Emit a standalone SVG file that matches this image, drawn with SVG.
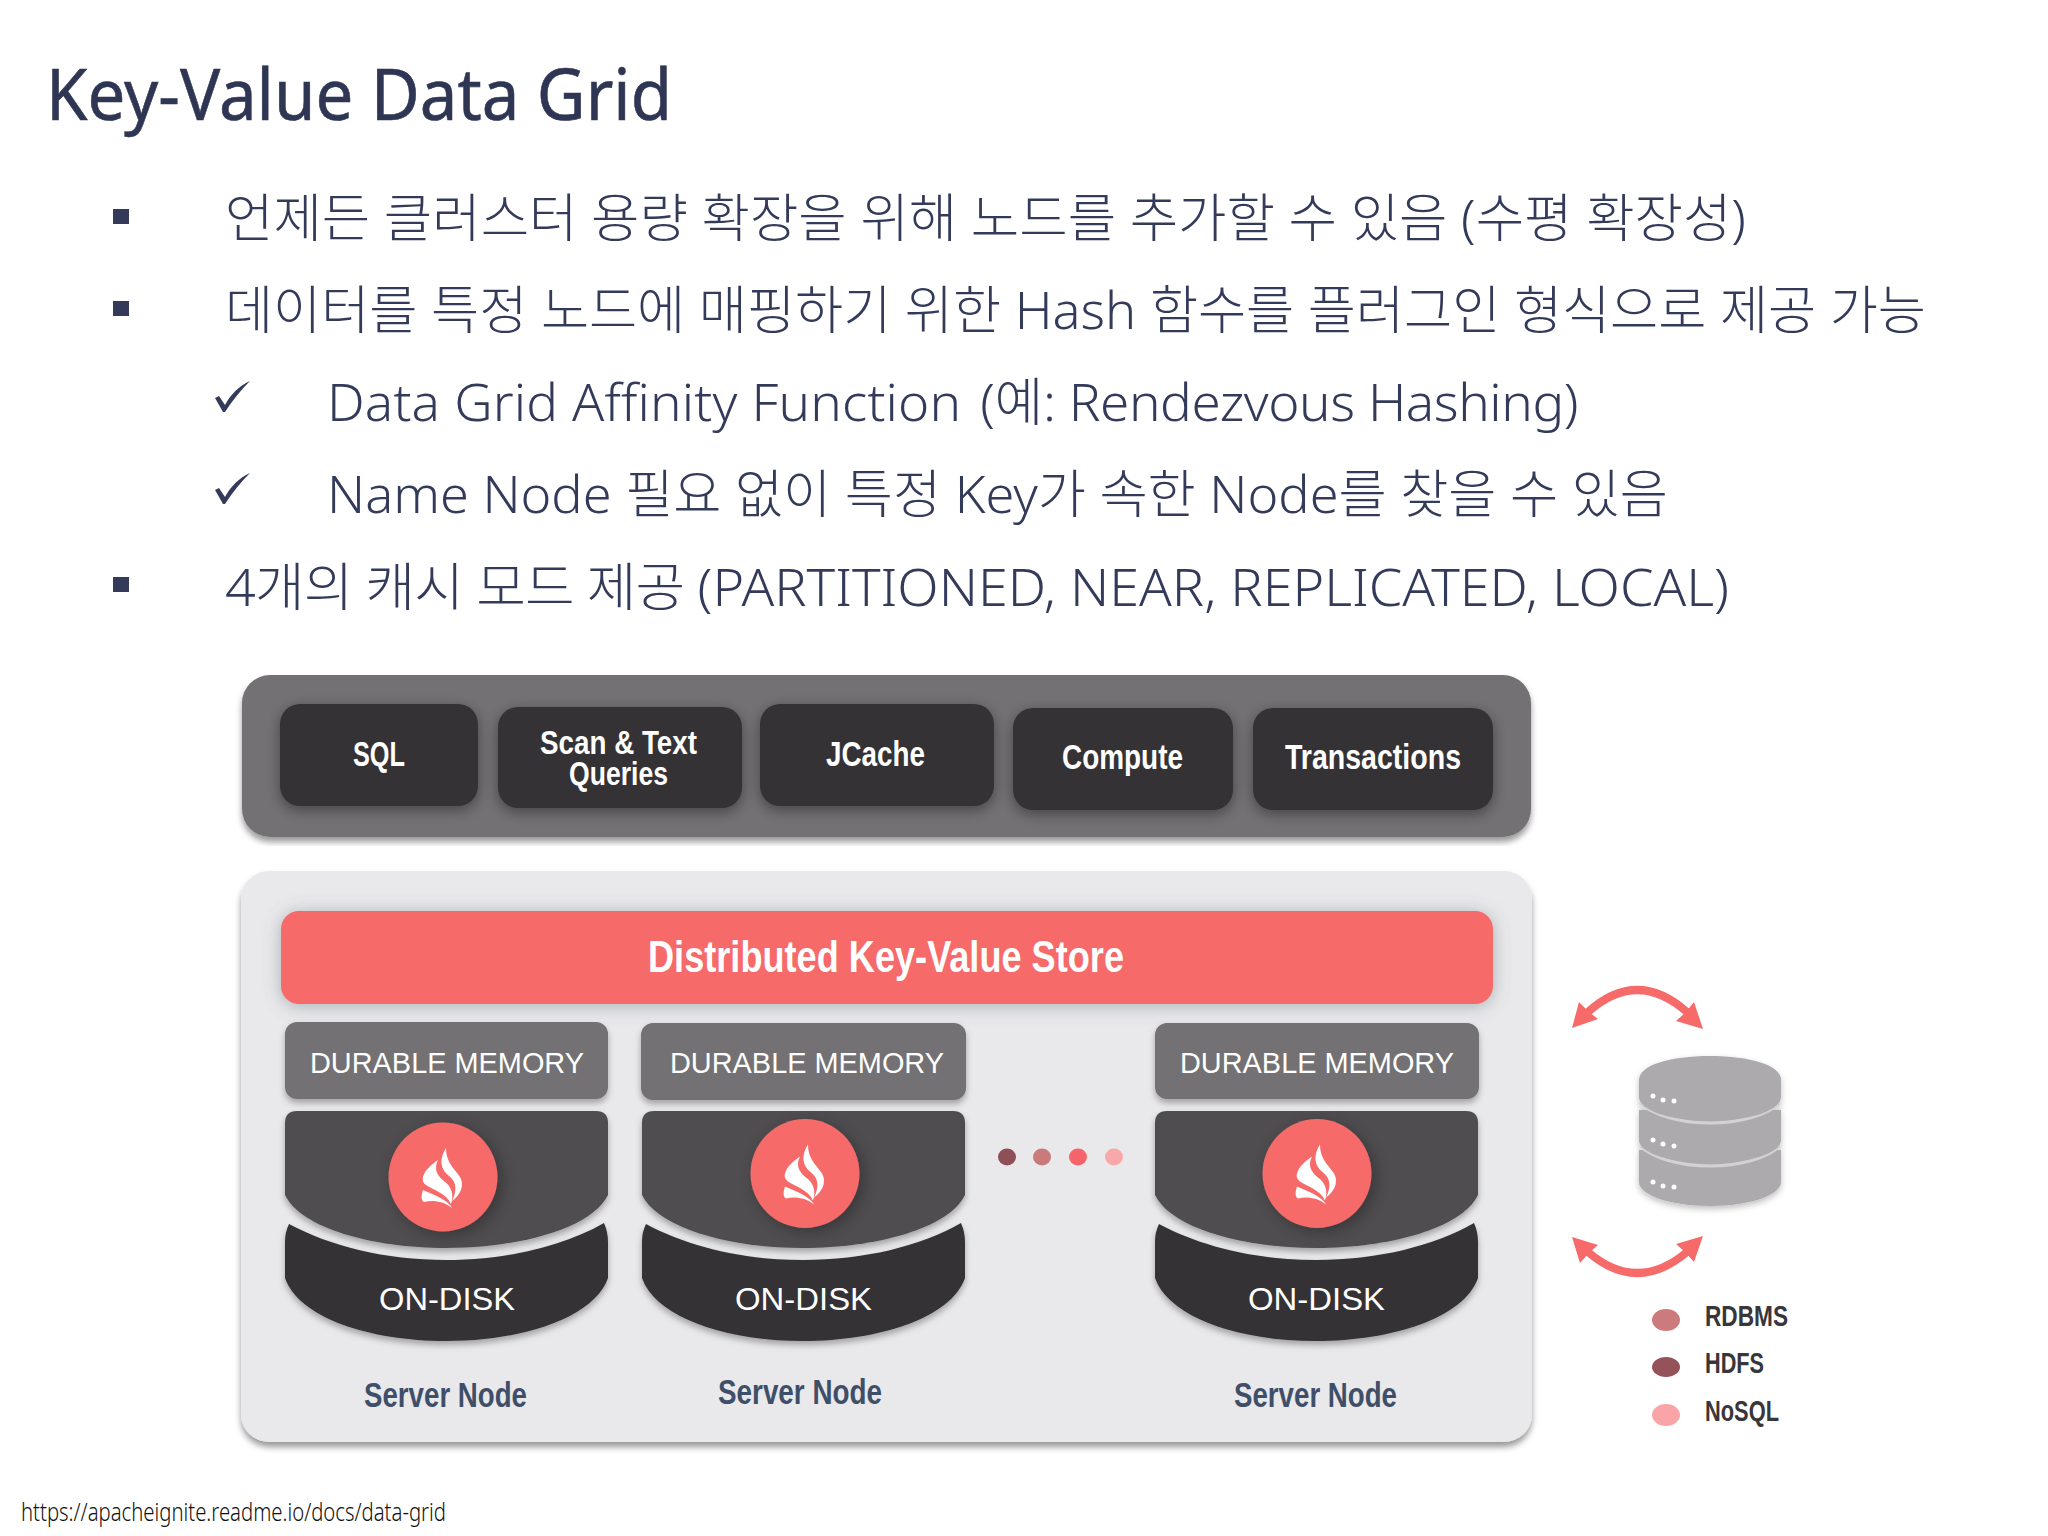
<svg xmlns="http://www.w3.org/2000/svg" width="2048" height="1536" viewBox="0 0 2048 1536">
<defs>
<style>
.body{font-family:"Noto Sans","Noto Sans CJK KR",sans-serif;font-weight:300;font-size:52px;fill:#343b5a}
.title{font-family:"Noto Sans","Noto Sans CJK KR",sans-serif;font-weight:400;font-size:72px;fill:#2f3654;stroke:#2f3654;stroke-width:.6}
.foot{font-family:"Noto Sans","Noto Sans CJK KR",sans-serif;font-weight:300;font-size:25px;fill:#111}
.api{font-family:"Liberation Sans",Arial,sans-serif;font-weight:700;font-size:35px;fill:#fff}
.reg{font-family:"Liberation Sans",Arial,sans-serif;font-weight:400;font-size:29px;fill:#fff;text-anchor:start}
.sn{font-family:"Liberation Sans",Arial,sans-serif;font-weight:700;font-size:35px;fill:#3f4f69}
.leg{font-family:"Liberation Sans",Arial,sans-serif;font-weight:700;font-size:30px;fill:#38363a}
.mark{fill:#343b5a}
.api-box{fill:#343235;filter:url(#sh4)}
.dur{fill:#737173;filter:url(#sh)}
.top{fill:#504e50;filter:url(#sh)}
.low{fill:#343235;filter:url(#sh)}
.logo{fill:#f66a6a;filter:url(#sh2)}
.disk{fill:#acaaad}
.gap{fill:none;stroke:#d2d2d4;stroke-width:3}
.pip{fill:#fff}
.arc{fill:none;stroke:#f66a6a;stroke-width:8}
.head{fill:#f66a6a}
</style>
<filter id="sh" x="-10%" y="-15%" width="120%" height="140%"><feDropShadow dx="0" dy="4" stdDeviation="3" flood-color="#000" flood-opacity=".3"/></filter>
<filter id="sh2" x="-30%" y="-30%" width="160%" height="160%"><feDropShadow dx="4" dy="4" stdDeviation="8" flood-color="#000" flood-opacity=".3"/></filter>
<filter id="sh3" x="-5%" y="-5%" width="110%" height="110%"><feDropShadow dx="0" dy="5" stdDeviation="3" flood-color="#000" flood-opacity=".4"/></filter>
<filter id="sh4" x="-15%" y="-25%" width="130%" height="160%"><feDropShadow dx="0" dy="4" stdDeviation="7" flood-color="#000" flood-opacity=".4"/></filter>
<filter id="sh5" x="-5%" y="-30%" width="110%" height="170%"><feDropShadow dx="0" dy="2" stdDeviation="9" flood-color="#5a6a70" flood-opacity=".45"/></filter>
<filter id="sh6" x="-10%" y="-10%" width="120%" height="125%"><feDropShadow dx="0" dy="3" stdDeviation="3" flood-color="#000" flood-opacity=".25"/></filter>
<g id="flame" fill="#fff">
<path d="M3,-29 C-4,-18 -3,-8 6,-1 C14,5 14,14 9,24 C17,18 21,10 18,2 C15,-6 3,-12 3,-29Z"/>
<path d="M-5,-17 C-17,-9 -25,2 -17,8 C-10,13 3,16 8,27 C11,18 9,10 1,4 C-7,-2 -9,-9 -5,-17Z"/>
<path d="M-20,13 C-22,19 -22,23 -19,25 C-10,23 0,24 9,31 C6,24 -8,18 -20,13Z"/>
</g>
<path id="check" d="M0,17 L4,15 L10,24 C16,13 24,5 35,0 C26,9 17,20 10,31 L8,31 Z"/>
<path id="srv-top" d="M285,1123 Q285,1111 297,1111 L596,1111 Q608,1111 608,1123 L608,1195 C592,1228 520,1248 446,1248 C372,1248 301,1228 285,1195 Z"/>
<path id="srv-low" d="M289,1224 C330,1246 385,1260 446,1260 C507,1260 564,1246 604,1223 Q608,1232 608,1242 L608,1278 C594,1318 522,1341 446,1341 C370,1341 299,1318 285,1278 L285,1242 Q285,1232 289,1224 Z"/>
</defs>
<rect width="2048" height="1536" fill="#fff"/>

<g id="slide-text">
<text class="title" x="46" y="120" textLength="626" lengthAdjust="spacingAndGlyphs">Key-Value Data Grid</text>
<rect class="mark" x="113" y="209" width="16" height="15"/>
<text class="body" x="225" y="237" textLength="1521" lengthAdjust="spacingAndGlyphs">언제든 클러스터 용량 확장을 위해 노드를 추가할 수 있음 (수평 확장성)</text>
<rect class="mark" x="113" y="301" width="16" height="15"/>
<text class="body" x="225" y="329" textLength="1701" lengthAdjust="spacingAndGlyphs">데이터를 특정 노드에 매핑하기 위한 Hash 함수를 플러그인 형식으로 제공 가능</text>
<use href="#check" class="mark" x="215" y="381"/>
<text class="body" x="327" y="421" textLength="1251" lengthAdjust="spacingAndGlyphs"><tspan style="letter-spacing:.15px">Data Grid Affinity Function </tspan><tspan dx="5" style="letter-spacing:-.45px">(예: Rendezvous Hashing)</tspan></text>
<use href="#check" class="mark" x="215" y="473"/>
<text class="body" x="327" y="513" textLength="1341" lengthAdjust="spacingAndGlyphs">Name Node 필요 없이 특정 Key가 속한 Node를 찾을 수 있음</text>
<rect class="mark" x="113" y="577" width="16" height="15"/>
<text class="body" x="225" y="606" textLength="1504" lengthAdjust="spacingAndGlyphs"><tspan style="letter-spacing:-.8px">4개의 캐시 모드 제공 </tspan>(PARTITIONED, NEAR, REPLICATED, LOCAL)</text>
<text class="foot" x="21" y="1521" textLength="425" lengthAdjust="spacingAndGlyphs">https://apacheignite.readme.io/docs/data-grid</text>
</g>

<g id="api-panel"><rect x="242" y="675" width="1289" height="162" rx="28" fill="#737173" filter="url(#sh3)"/></g>
<g id="sql"><rect class="api-box" x="280" y="704" width="198" height="102" rx="20"/><text class="api" x="353" y="766" textLength="52" lengthAdjust="spacingAndGlyphs">SQL</text></g>
<g id="scan"><rect class="api-box" x="498" y="707" width="244" height="101" rx="20"/><text class="api" x="540" y="754" textLength="157" lengthAdjust="spacingAndGlyphs" style="font-size:33px">Scan &amp; Text</text><text class="api" x="569" y="785" textLength="99" lengthAdjust="spacingAndGlyphs" style="font-size:33px">Queries</text></g>
<g id="jcache"><rect class="api-box" x="760" y="704" width="234" height="102" rx="20"/><text class="api" x="826" y="766" textLength="99" lengthAdjust="spacingAndGlyphs">JCache</text></g>
<g id="compute"><rect class="api-box" x="1013" y="708" width="220" height="102" rx="20"/><text class="api" x="1062" y="769" textLength="121" lengthAdjust="spacingAndGlyphs">Compute</text></g>
<g id="transactions"><rect class="api-box" x="1253" y="708" width="240" height="102" rx="20"/><text class="api" x="1285" y="769" textLength="176" lengthAdjust="spacingAndGlyphs">Transactions</text></g>

<g id="store-panel"><rect x="241" y="871" width="1291" height="571" rx="28" fill="#e9e9eb" filter="url(#sh3)"/></g>
<g id="kv-store"><rect x="281" y="911" width="1212" height="93" rx="18" fill="#f66a6a" filter="url(#sh5)"/><text x="648" y="972" textLength="476" lengthAdjust="spacingAndGlyphs" style="font-family:'Liberation Sans',Arial,sans-serif;font-weight:700;font-size:45px;fill:#fff">Distributed Key-Value Store</text></g>

<g id="server-1">
<rect class="dur" x="285" y="1022" width="323" height="77" rx="12"/>
<text class="reg" x="310" y="1073" textLength="274" lengthAdjust="spacingAndGlyphs">DURABLE MEMORY</text>
<use href="#srv-low" class="low"/>
<use href="#srv-top" class="top"/>
<circle class="logo" cx="443" cy="1177" r="54.5"/>
<use href="#flame" x="443" y="1177"/>
<text class="reg" x="379" y="1310" textLength="136" lengthAdjust="spacingAndGlyphs" style="font-size:32px">ON-DISK</text>
<text class="sn" x="364" y="1407" textLength="163" lengthAdjust="spacingAndGlyphs">Server Node</text>
</g>
<g id="server-2">
<rect class="dur" x="641" y="1023" width="325" height="77" rx="12"/>
<text class="reg" x="670" y="1073" textLength="274" lengthAdjust="spacingAndGlyphs">DURABLE MEMORY</text>
<use href="#srv-low" class="low" x="357"/>
<use href="#srv-top" class="top" x="357"/>
<circle class="logo" cx="805" cy="1173.5" r="54.5"/>
<use href="#flame" x="805" y="1173.5"/>
<text class="reg" x="735" y="1310" textLength="137" lengthAdjust="spacingAndGlyphs" style="font-size:32px">ON-DISK</text>
<text class="sn" x="718" y="1404" textLength="164" lengthAdjust="spacingAndGlyphs">Server Node</text>
</g>
<g id="dots">
<ellipse cx="1007" cy="1157" rx="9" ry="8.5" fill="#8f4f57"/>
<ellipse cx="1042" cy="1157" rx="9" ry="8.5" fill="#c97a7a"/>
<ellipse cx="1078" cy="1157" rx="9" ry="8.5" fill="#f4646a"/>
<ellipse cx="1114" cy="1157" rx="9" ry="8.5" fill="#f9a8aa"/>
</g>
<g id="server-3">
<rect class="dur" x="1155" y="1023" width="324" height="76" rx="12"/>
<text class="reg" x="1180" y="1073" textLength="274" lengthAdjust="spacingAndGlyphs">DURABLE MEMORY</text>
<use href="#srv-low" class="low" x="870"/>
<use href="#srv-top" class="top" x="870"/>
<circle class="logo" cx="1317" cy="1173.5" r="54.5"/>
<use href="#flame" x="1317" y="1173.5"/>
<text class="reg" x="1248" y="1310" textLength="137" lengthAdjust="spacingAndGlyphs" style="font-size:32px">ON-DISK</text>
<text class="sn" x="1234" y="1407" textLength="163" lengthAdjust="spacingAndGlyphs">Server Node</text>
</g>

<g id="database" filter="url(#sh6)">
<path class="disk" d="M1639,1165 V1182 C1639,1195 1670,1206 1710,1206 C1750,1206 1781,1195 1781,1182 V1150 H1639 Z"/>
<path class="gap" d="M1640,1146 C1652,1158 1680,1166 1710,1166 C1740,1166 1768,1158 1780,1146"/>
<path class="disk" d="M1639,1110 V1140 C1639,1153 1670,1163 1710,1163 C1750,1163 1781,1153 1781,1140 V1110 Z"/>
<path class="gap" d="M1640,1103 C1652,1115 1680,1123 1710,1123 C1740,1123 1768,1115 1780,1103"/>
<path class="disk" d="M1639,1080 C1639,1065 1670,1056 1710,1056 C1750,1056 1781,1065 1781,1080 V1097 C1781,1110 1750,1121 1710,1121 C1670,1121 1639,1110 1639,1097 Z"/>
<g class="pip">
<circle cx="1653" cy="1096" r="2.5"/><circle cx="1663" cy="1100" r="2.5"/><circle cx="1674" cy="1101" r="2.5"/>
<circle cx="1653" cy="1140" r="2.5"/><circle cx="1663" cy="1144" r="2.5"/><circle cx="1674" cy="1146" r="2.5"/>
<circle cx="1653" cy="1182" r="2.5"/><circle cx="1663" cy="1186" r="2.5"/><circle cx="1674" cy="1187" r="2.5"/>
</g>
</g>

<g id="connectors">
<path class="arc" d="M1588,1012 Q1637,968 1687,1012"/>
<polygon class="head" points="1572,1028 1579,1002 1589,1012 1598,1019"/>
<polygon class="head" points="1703,1029 1694,1002 1686,1012 1676,1021"/>
<path class="arc" d="M1588,1252 Q1637,1294 1687,1252"/>
<polygon class="head" points="1572,1237 1598,1245 1589,1253 1580,1263"/>
<polygon class="head" points="1703,1236 1676,1244 1686,1253 1694,1262"/>
</g>

<g id="legend">
<ellipse cx="1666" cy="1320" rx="14" ry="11" fill="#cd7a7c"/>
<text class="leg" x="1705" y="1326" textLength="83" lengthAdjust="spacingAndGlyphs">RDBMS</text>
<ellipse cx="1666" cy="1367" rx="14" ry="10" fill="#95525a"/>
<text class="leg" x="1705" y="1373" textLength="59" lengthAdjust="spacingAndGlyphs">HDFS</text>
<ellipse cx="1666" cy="1415" rx="14" ry="11" fill="#f9a5a8"/>
<text class="leg" x="1705" y="1421" textLength="74" lengthAdjust="spacingAndGlyphs">NoSQL</text>
</g>
</svg>
